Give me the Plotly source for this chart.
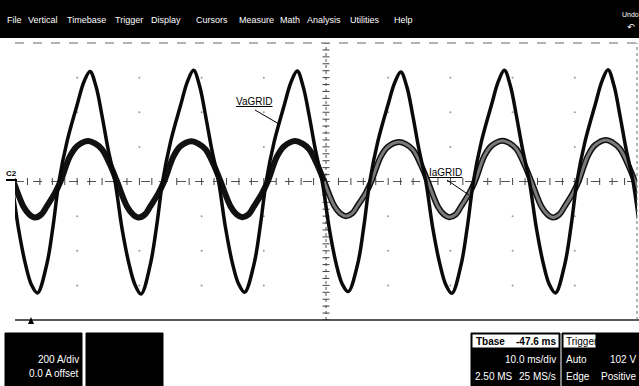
import plotly.graph_objects as go

# ---------------- data ----------------
# time in ms (10 ms/div, screen centre = 0), value in divisions
v_t = [-51.70, -50.58, -49.45, -48.33, -47.36, -46.40, -44.90, -43.89,
       -42.93, -41.64, -40.03, -38.91, -37.94, -36.98, -36.01, -35.05, -33.92, -32.80, -31.67, -30.71, -29.74, -28.25, -27.24,
       -26.27, -24.98, -23.38, -22.25, -21.29, -20.32, -19.36, -18.39, -17.27, -16.14, -15.02, -14.05, -13.09, -11.59, -10.58,
       -9.61, -8.33, -6.72, -5.60, -4.63, -3.67, -2.70, -1.74, -0.61, 0.52, 1.64, 2.61, 3.57, 5.07, 6.08,
       7.04, 8.33, 9.94, 11.06, 12.03, 12.99, 13.96, 14.92, 16.05, 17.17, 18.30, 19.26, 20.23, 21.72, 22.73,
       23.70, 24.98, 26.59, 27.72, 28.68, 29.65, 30.61, 31.58, 32.70, 33.83, 34.95, 35.92, 36.88, 38.38, 39.39,
       40.35, 41.64, 43.25, 44.37, 45.34, 46.30, 47.27, 48.23, 49.36, 50.48, 51.61]
v_val = [0.95, 0.0, -1.35, -2.38, -2.98, -3.22, -2.40, -1.30,
         0.0, 1.15, 2.20, 2.88, 3.18, 2.75, 1.90, 0.95, 0.0, -1.35, -2.38, -2.98, -3.25, -2.40, -1.30,
         0.0, 1.15, 2.20, 2.90, 3.21, 2.76, 1.90, 0.95, 0.0, -1.35, -2.38, -2.96, -3.20, -2.40, -1.30,
         0.0, 1.15, 2.20, 2.88, 3.19, 2.74, 1.90, 0.95, 0.0, -1.35, -2.38, -2.96, -3.18, -2.40, -1.30,
         0.0, 1.15, 2.20, 2.86, 3.16, 2.74, 1.90, 0.95, 0.0, -1.35, -2.38, -2.98, -3.23, -2.40, -1.30,
         0.0, 1.15, 2.20, 2.90, 3.21, 2.76, 1.90, 0.95, 0.0, -1.35, -2.38, -2.98, -3.22, -2.40, -1.30,
         0.0, 1.15, 2.20, 2.90, 3.23, 2.77, 1.90, 0.95, 0.0, -1.35, -2.38]

i_t = [-51.38, -50.26, -48.65, -47.69, -46.80, -45.76, -44.90, -43.57,
       -42.69, -41.16, -40.03, -38.26, -37.14, -36.01, -34.73, -33.60, -31.99, -31.03, -30.15, -29.10, -28.25, -26.91,
       -26.03, -24.50, -23.38, -21.61, -20.48, -19.36, -18.07, -16.95, -15.34, -14.37, -13.49, -12.44, -11.59, -10.26,
       -9.37, -7.85, -6.72, -4.95, -3.83, -2.70, -1.42, -0.29, 1.32, 2.28, 3.17, 4.21, 5.07, 6.40,
       7.28, 8.81, 9.94, 11.70, 12.83, 13.96, 15.24, 16.37, 17.98, 18.94, 19.82, 20.87, 21.72, 23.06,
       23.94, 25.47, 26.59, 28.36, 29.49, 30.61, 31.90, 33.02, 34.63, 35.60, 36.48, 37.52, 38.38, 39.71,
       40.60, 42.12, 43.25, 45.02, 46.14, 47.27, 48.55, 49.68, 51.29]
i_val = [0.49, 0.0, -0.72, -0.95, -1.04, -0.95, -0.72, -0.33,
         0.0, 0.73, 1.02, 1.17, 1.10, 0.93, 0.49, 0.0, -0.72, -0.95, -1.04, -0.95, -0.72, -0.33,
         0.0, 0.73, 1.02, 1.16, 1.09, 0.93, 0.49, 0.0, -0.72, -0.95, -1.03, -0.95, -0.72, -0.33,
         0.0, 0.73, 1.02, 1.17, 1.10, 0.93, 0.49, 0.0, -0.70, -0.92, -1.00, -0.92, -0.70, -0.33,
         0.0, 0.72, 1.00, 1.14, 1.08, 0.92, 0.49, 0.0, -0.72, -0.95, -1.03, -0.95, -0.72, -0.33,
         0.0, 0.74, 1.03, 1.18, 1.11, 0.94, 0.49, 0.0, -0.72, -0.95, -1.04, -0.95, -0.72, -0.33,
         0.0, 0.75, 1.05, 1.20, 1.12, 0.94, 0.49, 0.0, -0.72]

menu_items = ["File", "Vertical", "Timebase", "Trigger", "Display", "Cursors",
              "Measure", "Math", "Analysis", "Utilities", "Help"]
menu_x = [14, 43, 86, 129, 166, 212, 256, 290, 324, 365, 403]

ch_scale = "200 A/div"
ch_offset = "0.0 A offset"
tbase_pos = "-47.6 ms"
tbase_div = "10.0 ms/div"
rec_len = "2.50 MS"
samp_rate = "25 MS/s"
trig_mode = "Auto"
trig_level = "102 V"
trig_type = "Edge"
trig_slope = "Positive"

# ---------------- geometry helpers (pixel -> paper) ----------------
L, R, T, B = 15, 637, 43, 320
W, H = 639, 386


def px(x):
    return (x - L) / (R - L)


def py(y):
    return (B - y) / (B - T)


fig = go.Figure()

# faint grid dots at division intersections
gx, gy = [], []
for tx in range(-40, 41, 10):
    for vy in range(-3, 4):
        if tx != 0 and vy != 0:
            gx.append(tx)
            gy.append(vy)
fig.add_trace(go.Scatter(x=gx, y=gy, mode="markers", hoverinfo="skip",
                         marker=dict(size=2, color="#999999"), showlegend=False))

# centre graticule ticks
hx = [k * 2 for k in range(-25, 26)]
fig.add_trace(go.Scatter(x=hx, y=[0] * len(hx), mode="markers", hoverinfo="skip",
                         marker=dict(symbol="line-ns", size=5, line=dict(width=1, color="#444")),
                         showlegend=False))
vy_ticks = [k * 0.2 for k in range(-20, 21)]
fig.add_trace(go.Scatter(x=[0] * len(vy_ticks), y=vy_ticks, mode="markers", hoverinfo="skip",
                         marker=dict(symbol="line-ew", size=5, line=dict(width=1, color="#444")),
                         showlegend=False))

# current (IaGRID)
fig.add_trace(go.Scatter(x=i_t, y=i_val, mode="lines", line=dict(color="#111", width=6, shape="spline"),
                         hoverinfo="skip", showlegend=False))
rt = [t for t in i_t if t >= -0.5]
rv = [v for t, v in zip(i_t, i_val) if t >= -0.5]
fig.add_trace(go.Scatter(x=rt, y=rv, mode="lines", line=dict(color="#7a7a7a", width=3, shape="spline"),
                         hoverinfo="skip", showlegend=False))

# voltage (VaGRID)
fig.add_trace(go.Scatter(x=v_t, y=v_val, mode="lines", line=dict(color="#0a0a0a", width=3.5, shape="spline"),
                         hoverinfo="skip", showlegend=False))

shapes = []
# centre lines
shapes.append(dict(type="line", xref="x", yref="y", x0=-50, x1=50, y0=0, y1=0,
                   line=dict(color="#555", width=1, dash="dash"), layer="below"))
shapes.append(dict(type="line", xref="x", yref="y", x0=0, x1=0, y0=-4, y1=4,
                   line=dict(color="#555", width=1, dash="dot"), layer="below"))
# borders
shapes.append(dict(type="line", xref="paper", yref="paper", x0=px(15), x1=px(637), y0=1, y1=1,
                   line=dict(color="#666", width=1, dash="dash")))
shapes.append(dict(type="line", xref="paper", yref="paper", x0=px(15), x1=px(639), y0=0, y1=0,
                   line=dict(color="#222", width=1.5)))
shapes.append(dict(type="line", xref="paper", yref="paper", x0=1, x1=1, y0=0, y1=1,
                   line=dict(color="#666", width=1, dash="dot")))
# menu bar
shapes.append(dict(type="rect", xref="paper", yref="paper", x0=px(0), x1=px(639), y0=py(38), y1=py(0),
                   fillcolor="black", line=dict(width=0)))
# bottom boxes
for x0, x1 in [(5, 82), (86, 163), (471, 560), (562, 639)]:
    shapes.append(dict(type="rect", xref="paper", yref="paper", x0=px(x0), x1=px(x1), y0=py(386), y1=py(333),
                       fillcolor="black", line=dict(color="black", width=1)))
# white tabs in Tbase / Trigger boxes
shapes.append(dict(type="rect", xref="paper", yref="paper", x0=px(472), x1=px(559), y0=py(348), y1=py(334),
                   fillcolor="white", line=dict(color="black", width=1)))
shapes.append(dict(type="rect", xref="paper", yref="paper", x0=px(563), x1=px(596), y0=py(348), y1=py(334),
                   fillcolor="white", line=dict(color="black", width=1)))
# trigger position marker
shapes.append(dict(type="path", xref="paper", yref="paper",
                   path=f"M {px(28)} {py(324)} L {px(34)} {py(324)} L {px(31)} {py(317)} Z",
                   fillcolor="black", line=dict(width=0)))
# C2 marker dash
shapes.append(dict(type="line", xref="paper", yref="paper", x0=px(6), x1=px(17), y0=py(180), y1=py(180),
                   line=dict(color="black", width=2)))
# label leaders
shapes.append(dict(type="line", xref="paper", yref="paper", x0=px(255), x1=px(279), y0=py(110), y1=py(124),
                   line=dict(color="black", width=1)))
shapes.append(dict(type="line", xref="paper", yref="paper", x0=px(447), x1=px(469), y0=py(180), y1=py(195),
                   line=dict(color="black", width=1)))

ann = []
F = "Liberation Sans"
for name, x in zip(menu_items, menu_x):
    ann.append(dict(text=name, x=px(x), y=py(20), xref="paper", yref="paper", showarrow=False,
                    xanchor="center", yanchor="middle", font=dict(family=F, size=9, color="white")))
ann.append(dict(text="Undo", x=px(630), y=py(14), xref="paper", yref="paper", showarrow=False,
                xanchor="center", yanchor="middle", font=dict(family=F, size=7, color="white")))
ann.append(dict(text="↶", x=px(631), y=py(27), xref="paper", yref="paper", showarrow=False,
                xanchor="center", yanchor="middle", font=dict(family="DejaVu Sans", size=9, color="white")))

ann.append(dict(text="<u>VaGRID</u>", x=px(254), y=py(101), xref="paper", yref="paper", showarrow=False,
                xanchor="center", yanchor="middle", font=dict(family=F, size=10, color="black")))
ann.append(dict(text="<u>IaGRID</u>", x=px(445), y=py(172), xref="paper", yref="paper", showarrow=False,
                xanchor="center", yanchor="middle", font=dict(family=F, size=10, color="black")))
ann.append(dict(text="<b>C2</b>", x=px(11), y=py(173), xref="paper", yref="paper", showarrow=False,
                xanchor="center", yanchor="middle", font=dict(family=F, size=8, color="black")))


def txt(s, x, y, anchor, color="white", bold=False, size=10):
    ann.append(dict(text=f"<b>{s}</b>" if bold else s, x=px(x), y=py(y), xref="paper", yref="paper",
                    showarrow=False, xanchor=anchor, yanchor="middle",
                    font=dict(family=F, size=size, color=color)))


txt(ch_scale, 81, 359, "right")
txt(ch_offset, 81, 373, "right")
txt("Tbase", 474, 341, "left", color="black", bold=True)
txt(tbase_pos, 558, 341, "right", color="black", bold=True)
txt(tbase_div, 558, 359, "right")
txt(rec_len, 473, 376, "left")
txt(samp_rate, 558, 376, "right")
txt("Trigger", 564, 341, "left", color="black")
txt(trig_mode, 564, 359, "left")
txt(trig_level, 638, 359, "right")
txt(trig_type, 564, 376, "left")
txt(trig_slope, 638, 376, "right")

fig.update_layout(
    width=W, height=H,
    margin=dict(l=L, r=W - R, t=T, b=H - B),
    paper_bgcolor="white", plot_bgcolor="white",
    xaxis=dict(range=[-50, 50], showgrid=False, zeroline=False, showticklabels=False, ticks="", showline=False),
    yaxis=dict(range=[-4, 4], showgrid=False, zeroline=False, showticklabels=False, ticks="", showline=False),
    shapes=shapes, annotations=ann, showlegend=False,
)

fig.write_html("out.html", config={"displayModeBar": False},
               post_script="document.body.style.margin='0';document.body.style.overflow='hidden';")
